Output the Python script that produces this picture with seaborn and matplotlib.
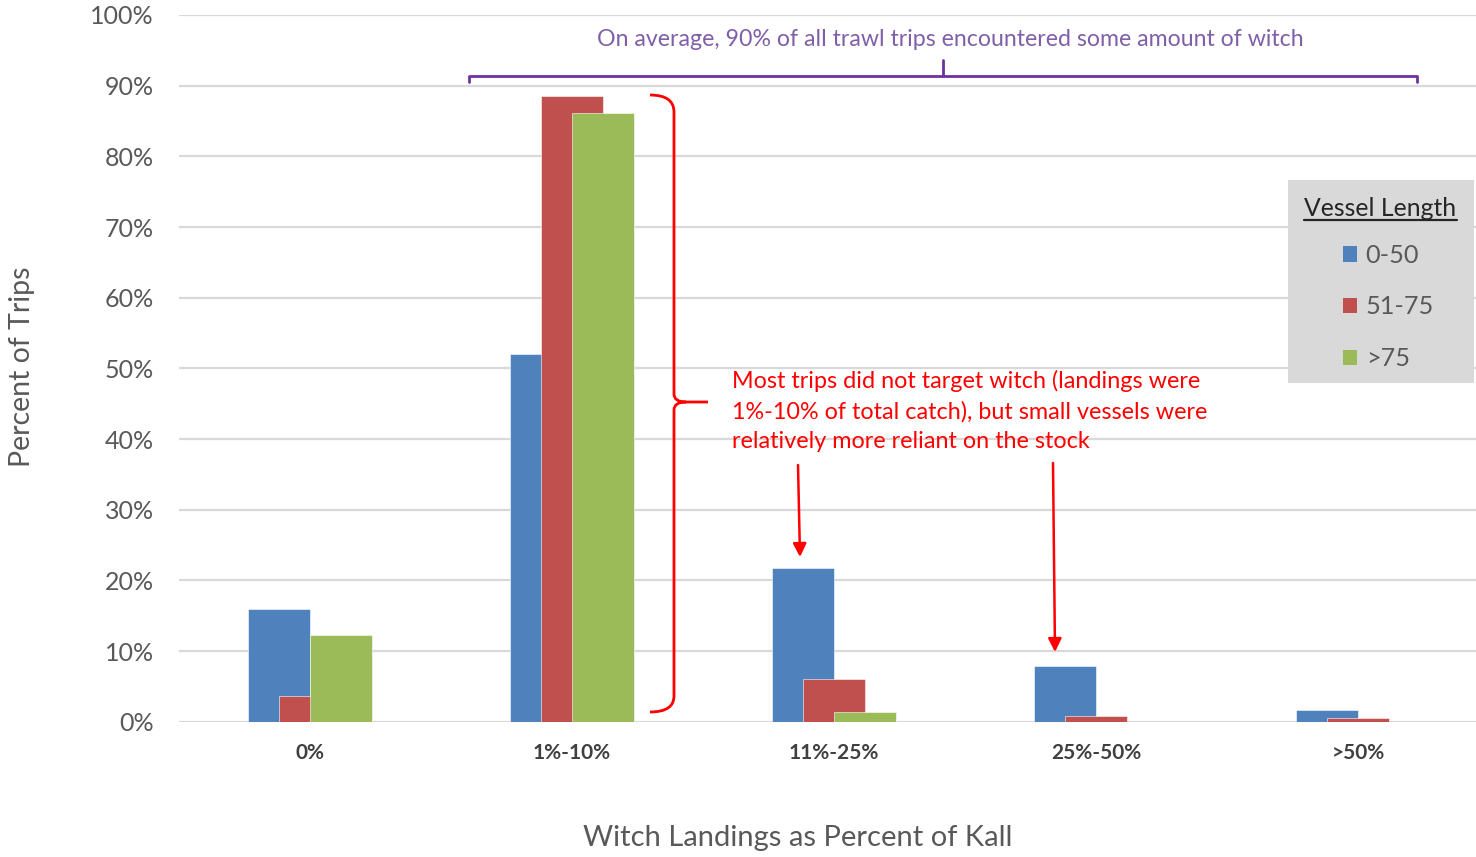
import numpy as np
import pandas as pd
import matplotlib
matplotlib.use("Agg")
import matplotlib.pyplot as plt
from matplotlib.path import Path
from matplotlib.patches import PathPatch, Patch, Rectangle
from matplotlib.lines import Line2D
import seaborn as sns

# Share of trips (%) in each witch-landings band, by vessel length class
categories = ["0%", "1%-10%", "11%-25%", "25%-50%", ">50%"]
series_names = ["0-50", "51-75", ">75"]
small_vessels = [15.9, 52.1, 21.8, 7.9, 1.6]
mid_vessels = [3.7, 88.6, 6.0, 0.8, 0.5]
large_vessels = [12.3, 86.1, 1.4, 0.0, 0.0]
y_ticks = [0, 10, 20, 30, 40, 50, 60, 70, 80, 90, 100]
y_tick_labels = [f"{v}%" for v in y_ticks]

colors = ["#4F81BD", "#C0504D", "#9BBB59"]
grey_text = "#595959"

sns.set_theme(style="white")
plt.rcParams["font.family"] = ["Lato", "DejaVu Sans"]

W, H = 1476, 857
fig = plt.figure(figsize=(W / 100, H / 100), dpi=100)
fig.patch.set_facecolor("white")
ax = fig.add_axes([179 / W, (H - 721.7) / H, (W - 179) / W, (721.7 - 15) / H])

# Overlapping clustered bars: each series shifted by half a bar width
bar_w = 62 / 262
step = 31 / 262
pos = np.arange(len(categories))
for k, (name, vals, c) in enumerate(zip(series_names,
                                        [small_vessels, mid_vessels, large_vessels],
                                        colors)):
    df = pd.DataFrame({"pos": pos + (k - 1) * step, "pct": vals})
    sns.barplot(data=df, x="pos", y="pct", native_scale=True, width=bar_w,
                color=c, saturation=1, errorbar=None, edgecolor="white",
                linewidth=0.4, ax=ax, zorder=3)

ax.set_xlim(-0.5, (W - 310) / 262)
ax.set_ylim(0, 100)
ax.set_xlabel("")
ax.set_ylabel("")
ax.set_xticks(pos)
ax.set_xticklabels(categories, fontsize=15, fontweight="bold", color="#404040")
ax.set_yticks(y_ticks)
ax.set_yticklabels(y_tick_labels, fontsize=18, color=grey_text)
ax.tick_params(axis="x", length=0, pad=15)
ax.tick_params(axis="y", length=0, pad=18)
ax.yaxis.grid(True, color="#D9D9D9", linewidth=1.6, zorder=0)
ax.set_axisbelow(True)
for s in ax.spines.values():
    s.set_visible(False)

fig.text(798 / W, 1 - 838 / H, "Witch Landings as Percent of Kall",
         ha="center", va="center", fontsize=21, color=grey_text)
fig.text(22 / W, 1 - 367 / H, "Percent of Trips", ha="center", va="center",
         rotation=90, fontsize=20.5, color=grey_text)


def dx(px):
    return (px - 310) / 262


def dy(py):
    return (721.7 - py) / 7.067


# Purple bracket spanning all non-zero bands
purple = "#7030A0"
ax.plot([dx(469), dx(469), dx(1417), dx(1417)], [dy(82), dy(76), dy(76), dy(82)],
        color=purple, lw=2, clip_on=False, zorder=6)
ax.plot([dx(943), dx(943)], [dy(76), dy(60)], color=purple, lw=2,
        clip_on=False, zorder=6)
ax.text(dx(950), dy(40), "On average, 90% of all trawl trips encountered some amount of witch",
        ha="center", va="center", fontsize=16.7, color="#7F5FA8", zorder=6)

# Red curly brace beside the 1%-10% group
brace_px = [
    ((650, 95), Path.MOVETO), ((674, 95), Path.CURVE3), ((674, 112), Path.CURVE3),
    ((674, 394), Path.LINETO), ((674, 402), Path.CURVE3), ((686, 402), Path.CURVE3),
    ((708, 402), Path.LINETO),
    ((686, 402), Path.MOVETO), ((674, 402), Path.CURVE3), ((674, 410), Path.CURVE3),
    ((674, 696), Path.LINETO), ((674, 712), Path.CURVE3), ((650, 712), Path.CURVE3),
]
verts = [(dx(p[0]), dy(p[1])) for p, _ in brace_px]
codes = [c for _, c in brace_px]
ax.add_patch(PathPatch(Path(verts, codes), facecolor="none", edgecolor="#FF0000",
                       lw=2, clip_on=False, zorder=6))

ax.text(dx(732), dy(411),
        "Most trips did not target witch (landings were\n"
        "1%-10% of total catch), but small vessels were\n"
        "relatively more reliant on the stock",
        ha="left", va="center", fontsize=16.8, color="#FF0000", linespacing=1.52, zorder=6)

for (x0, y0), (x1, y1) in [((798, 465), (800, 557)), ((1053, 463), (1055, 652))]:
    ax.annotate("", xy=(dx(x1), dy(y1)), xytext=(dx(x0), dy(y0)),
                arrowprops=dict(arrowstyle="-|>", color="#FF0000", lw=1.8,
                                mutation_scale=20, shrinkA=0, shrinkB=0),
                zorder=6)

# Legend panel
ax.add_patch(Rectangle((1288 / W, 1 - 383 / H), 186 / W, 203 / H,
                       transform=fig.transFigure, facecolor="#D9D9D9",
                       edgecolor="none", clip_on=False, zorder=7))
title = ax.text(1380.5 / W, 1 - 208 / H, "Vessel Length", transform=fig.transFigure,
                ha="center", va="center", fontsize=17.8, color="#262626", zorder=9)
handles = [Patch(facecolor=c, edgecolor="none", label=n)
           for n, c in zip(series_names, colors)]
leg = ax.legend(handles=handles, loc="center left",
                bbox_to_anchor=(1343 / W, 1 - 307 / H), bbox_transform=fig.transFigure,
                frameon=False, fontsize=18.2, handlelength=0.55, handleheight=0.55,
                handletextpad=0.35, labelspacing=1.13, labelcolor=grey_text,
                borderpad=0, borderaxespad=0)
leg.set_zorder(8)

fig.canvas.draw()
bb = title.get_window_extent()
ax.add_artist(Line2D([bb.x0 / W, bb.x1 / W], [(H - 220) / H] * 2,
                     transform=fig.transFigure, color="#262626", lw=1.6, zorder=9))

fig.savefig("out.png", dpi=100)
